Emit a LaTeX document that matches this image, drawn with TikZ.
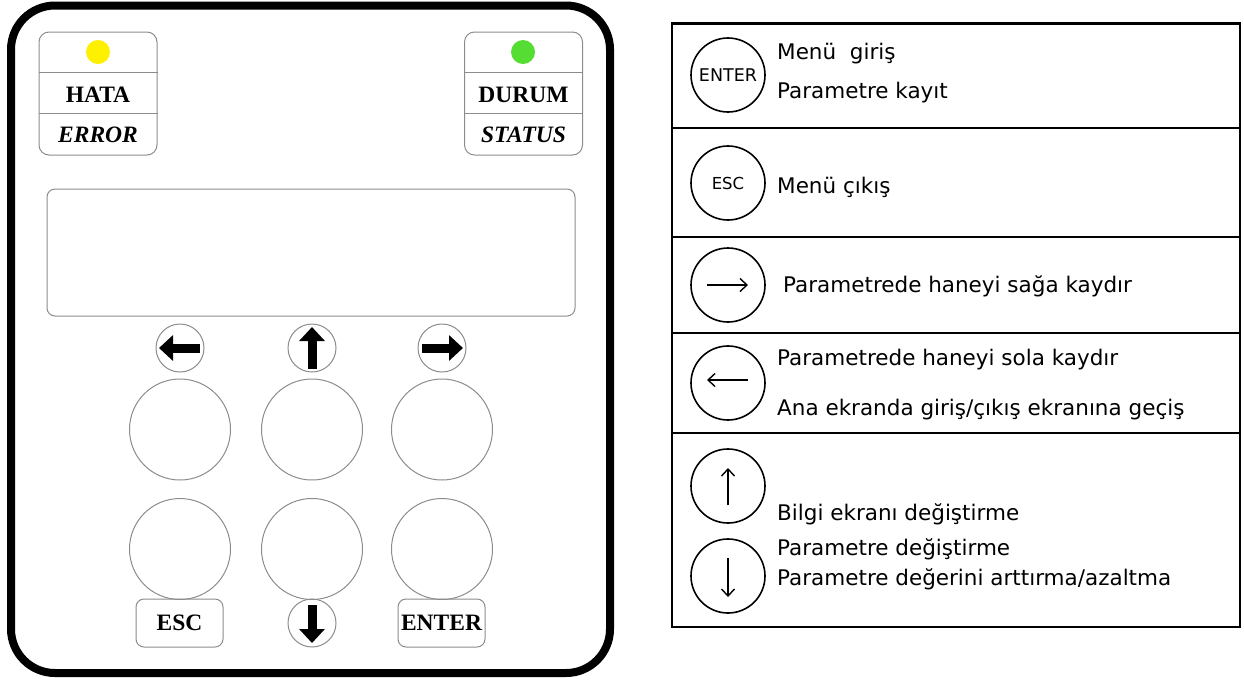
\documentclass[tikz,border=0pt]{standalone}
\usepackage{fontspec}
\setmainfont{Liberation Serif}
\newfontfamily\tabfont{DejaVu Sans}
\usetikzlibrary{arrows.meta, positioning, calc}
\definecolor{ledyellow}{HTML}{FFF000}
\definecolor{ledgreen}{HTML}{55DD33}

\begin{document}
\begin{tikzpicture}[x=1pt,y=-1pt,inner sep=0pt,
    ledbox/.style={draw=black!45,line width=1pt,rounded corners=10pt,minimum width=118pt,minimum height=123pt},
    keybox/.style={draw=black!45,line width=1pt,rounded corners=8pt,minimum width=87pt,minimum height=48pt},
    smallkey/.style={shape=circle,draw=black!45,line width=1pt,minimum size=48pt},
    bigkey/.style={shape=circle,draw=black!45,line width=1pt,minimum size=101pt},
    legkey/.style={shape=circle,draw,line width=1.6pt,minimum size=74pt},
    fatarrow/.style={line width=9pt,-{Triangle[length=14pt,width=25pt]}},
    thinarrow/.style={line width=1.4pt,-{Straight Barb[length=7pt,width=13pt]}},
    panel/.style={font=\fontsize{23.5}{27}\selectfont\bfseries},
    legend/.style={font=\tabfont\fontsize{21.5}{25}\selectfont,anchor=base west}]
    \useasboundingbox (0,0) rectangle (1244,681);

    %%%% panel
    \draw [line width=8pt,rounded corners=44pt] (11,5.5) rectangle (610,673); %
    \node (hata) at (98,93.5) [ledbox] {}; %
    \node (durum) at (523.5,93.5) [ledbox] {}; %
    \draw [draw=black!45,line width=1pt] ([yshift=-41]hata.north west) -- ([yshift=-41]hata.north east); %
    \draw [draw=black!45,line width=1pt] ([yshift=42]hata.south west) -- ([yshift=42]hata.south east); %
    \draw [draw=black!45,line width=1pt] ([yshift=-41]durum.north west) -- ([yshift=-41]durum.north east); %
    \draw [draw=black!45,line width=1pt] ([yshift=42]durum.south west) -- ([yshift=42]durum.south east); %
    \node (ledh) at (98,52) [shape=circle,fill=ledyellow,minimum size=24pt] {}; %
    \node (ledd) at (523,52) [shape=circle,fill=ledgreen,minimum size=24pt] {}; %
    \node (th1) at (98,102) [panel,anchor=base] {HATA}; %
    \node (th2) at (98,142) [panel,anchor=base] {\itshape ERROR}; %
    \node (td1) at (523.5,102) [panel,anchor=base] {DURUM}; %
    \node (td2) at (523.5,142) [panel,anchor=base] {\itshape STATUS}; %
    \draw [draw=black!45,line width=1pt,rounded corners=8pt] (47,189) rectangle (575,316); %

    %%%% keys
    \node (kl) at (180,348) [smallkey] {}; %
    \node (ku) at (312,348) [smallkey] {}; %
    \node (kr) at (442,348) [smallkey] {}; %
    \foreach \x/\n in {180/a,312/b,442/c} {
      \node (b1\n) at (\x,429.5) [bigkey] {};
      \node (b2\n) at (\x,549) [bigkey] {};
    }
    \node (kesc) at (179.5,623) [keybox,panel] {ESC}; %
    \node (kd) at (312,623) [smallkey] {}; %
    \node (kent) at (441.5,623) [keybox,panel] {ENTER}; %
    \draw [fatarrow] ([xshift=20]kl.center) -- ([xshift=-21]kl.center); %
    \draw [fatarrow] ([yshift=-21]ku.center) -- ([yshift=21]ku.center); %
    \draw [fatarrow] ([xshift=-20]kr.center) -- ([xshift=21]kr.center); %
    \draw [fatarrow] ([yshift=18]kd.center) -- ([yshift=-20]kd.center); %

    %%%% legend table
    \draw [line width=2.5pt] (672,23.5) rectangle (1240,627); %
    \foreach \y in {128,237,333,433}
      \draw [line width=2.5pt] (672,\y) -- (1240,\y);
    \node (lent) at (728,75) [legkey,font=\tabfont\fontsize{17.5}{20}\selectfont] {ENTER}; %
    \node (lesc) at (728,183) [legkey,font=\tabfont\fontsize{16.5}{19}\selectfont] {ESC}; %
    \node (lr) at (728,285) [legkey] {}; %
    \node (ll) at (728,383) [legkey] {}; %
    \node (lu) at (728,486) [legkey] {}; %
    \node (ld) at (728,576) [legkey] {}; %
    \draw [thinarrow] ([xshift=-21]lr.center) -- ([xshift=20]lr.center); %
    \draw [thinarrow] ([xshift=20,yshift=3]ll.center) -- ([xshift=-21,yshift=3]ll.center); %
    \draw [thinarrow] ([yshift=-19]lu.center) -- ([yshift=18]lu.center); %
    \draw [thinarrow] ([yshift=18]ld.center) -- ([yshift=-21]ld.center); %

    \node (m1) at (777,59) [legend] {Menü\ \ giriş}; %
    \node (m2) at (777,98) [legend] {Parametre kayıt}; %
    \node (m3) at (777,193) [legend] {Menü çıkış}; %
    \node (m4) at (783,292) [legend] {Parametrede haneyi sağa kaydır}; %
    \node (m5) at (777,365) [legend] {Parametrede haneyi sola kaydır}; %
    \node (m6) at (777,415) [legend] {Ana ekranda giriş/çıkış ekranına geçiş}; %
    \node (m7) at (777,520) [legend] {Bilgi ekranı değiştirme}; %
    \node (m8) at (777,555) [legend] {Parametre değiştirme}; %
    \node (m9) at (777,585) [legend] {Parametre değerini arttırma/azaltma}; %
  \end{tikzpicture}
\end{document}
